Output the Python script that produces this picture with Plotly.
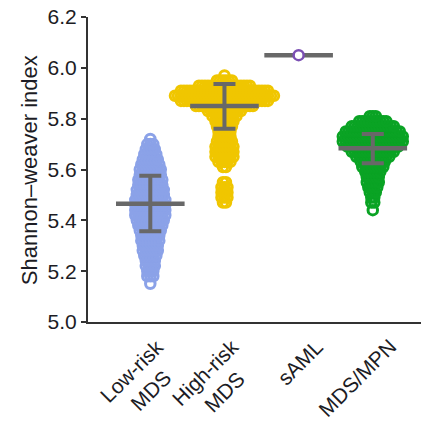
import plotly.graph_objects as go

# Groups on the x axis
categories = ["Low-risk<br>MDS", "High-risk<br>MDS", "sAML", "MDS/MPN"]
colors = ["#8ba2e8", "#f0c600", "#7b4fb3", "#0aa324"]

# Binned sample counts per Shannon-weaver index value, one list pair per group
low_values = [5.15, 5.18, 5.20, 5.22, 5.24, 5.26, 5.28, 5.30, 5.32, 5.34, 5.36, 5.38,
              5.40, 5.42, 5.44, 5.46, 5.48, 5.50, 5.52, 5.54, 5.56, 5.58, 5.60,
              5.62, 5.64, 5.66, 5.68, 5.70, 5.72]
low_counts = [1, 3, 3, 4, 4, 5, 6, 6, 7, 7, 8, 9,
              10, 11, 11, 11, 11, 10, 10, 9, 9, 8, 8,
              7, 6, 5, 4, 3, 1]

high_values = [5.47, 5.49, 5.51, 5.53, 5.55,
               5.61, 5.63, 5.65, 5.67, 5.69, 5.71, 5.73, 5.75, 5.77, 5.79,
               5.81, 5.83, 5.85, 5.87, 5.89, 5.91, 5.93, 5.95, 5.97]
high_counts = [2, 3, 3, 3, 2,
               2, 5, 7, 7, 7, 6, 5, 5, 6, 7,
               9, 12, 20, 30, 34, 30, 18, 6, 1]

saml_values = [6.05]
saml_counts = [1]

mpn_values = [5.44, 5.47, 5.49, 5.51, 5.53, 5.55, 5.57, 5.59, 5.61, 5.63, 5.65,
              5.67, 5.69, 5.71, 5.73, 5.75, 5.77, 5.79, 5.81]
mpn_counts = [1, 2, 2, 3, 4, 5, 5, 6, 8, 9, 12,
              15, 18, 21, 21, 19, 15, 10, 3]

# Group summaries: mean with lower / upper bounds of the error bar
means = [5.465, 5.85, 6.05, 5.684]
lower = [5.357, 5.76, 6.05, 5.625]
upper = [5.575, 5.936, 6.05, 5.74]

groups = [(low_values, low_counts), (high_values, high_counts),
          (saml_values, saml_counts), (mpn_values, mpn_counts)]

x_range = [-0.84, 3.65]
plot_w = 421 - 88
px_per_unit = plot_w / (x_range[1] - x_range[0])
dot_step_px = 3.0
bar_gray = "#686868"
font_color = "#1c1c24"

fig = go.Figure()

# Dot swarms: each bin is laid out as a centred row of points
for i, (vals, cnts) in enumerate(groups):
    if i == 2:
        continue
    xs, ys = [], []
    for v, n in zip(vals, cnts):
        for k in range(n):
            xs.append(i + (k - (n - 1) / 2) * dot_step_px / px_per_unit)
            ys.append(v)
    fig.add_trace(go.Scatter(
        x=xs, y=ys, mode="markers", showlegend=False, hoverinfo="skip",
        marker=dict(symbol="circle-open", size=9.5, color=colors[i],
                    line=dict(width=3, color=colors[i])),
    ))

# Error bars and mean lines
err_idx = [0, 1, 3]
fig.add_trace(go.Scatter(
    x=err_idx, y=[means[i] for i in err_idx], mode="markers",
    showlegend=False, hoverinfo="skip",
    marker=dict(size=0.1, color="rgba(0,0,0,0)"),
    error_y=dict(type="data", symmetric=False,
                 array=[upper[i] - means[i] for i in err_idx],
                 arrayminus=[means[i] - lower[i] for i in err_idx],
                 color=bar_gray, thickness=4, width=11),
))
fig.add_trace(go.Scatter(
    x=list(range(4)), y=means, mode="markers", showlegend=False, hoverinfo="skip",
    marker=dict(symbol="line-ew-open", size=49, color=bar_gray,
                line=dict(width=4.5, color=bar_gray)),
))

# Single sAML sample drawn above its mean line
fig.add_trace(go.Scatter(
    x=[2] * len(saml_values), y=saml_values, mode="markers",
    showlegend=False, hoverinfo="skip",
    marker=dict(symbol="circle", size=10, color="white",
                line=dict(width=2.5, color=colors[2])),
))

# Rotated, centre-aligned category labels under the axis
label_annotations = [
    dict(text=name, x=i, y=0, xref="x", yref="paper",
         xanchor="right", yanchor="top",
         xshift=40 if "<br>" in name else 31, yshift=-10,
         textangle=-45, align="center", showarrow=False,
         font=dict(size=21, color=font_color))
    for i, name in enumerate(categories)
]

fig.update_layout(
    width=421, height=422,
    margin=dict(l=88, r=0, t=17, b=100),
    paper_bgcolor="white", plot_bgcolor="white",
    font=dict(family="Liberation Sans, Arial, sans-serif", color=font_color),
    xaxis=dict(
        range=x_range, tickmode="array", tickvals=list(range(4)),
        showticklabels=False, ticks="", automargin=False,
        showline=True, linecolor="#333333", linewidth=2,
        showgrid=False, zeroline=False,
    ),
    yaxis=dict(
        range=[5.0, 6.2], tickmode="array",
        tickvals=[5.0, 5.2, 5.4, 5.6, 5.8, 6.0, 6.2],
        ticktext=["5.0", "5.2", "5.4", "5.6", "5.8", "6.0", "6.2"],
        ticks="outside", ticklen=5, tickwidth=2, tickcolor="#333333",
        tickfont=dict(size=21, color=font_color), automargin=False,
        showline=True, linecolor="#333333", linewidth=2,
        showgrid=False, zeroline=False,
    ),
    annotations=label_annotations + [dict(
        text="Shannon\u2013weaver index", textangle=-90,
        xref="paper", yref="paper", x=-0.177, y=0.498,
        xanchor="center", yanchor="middle", showarrow=False,
        font=dict(size=22, color=font_color),
    )],
)

fig.write_html("out.html")
